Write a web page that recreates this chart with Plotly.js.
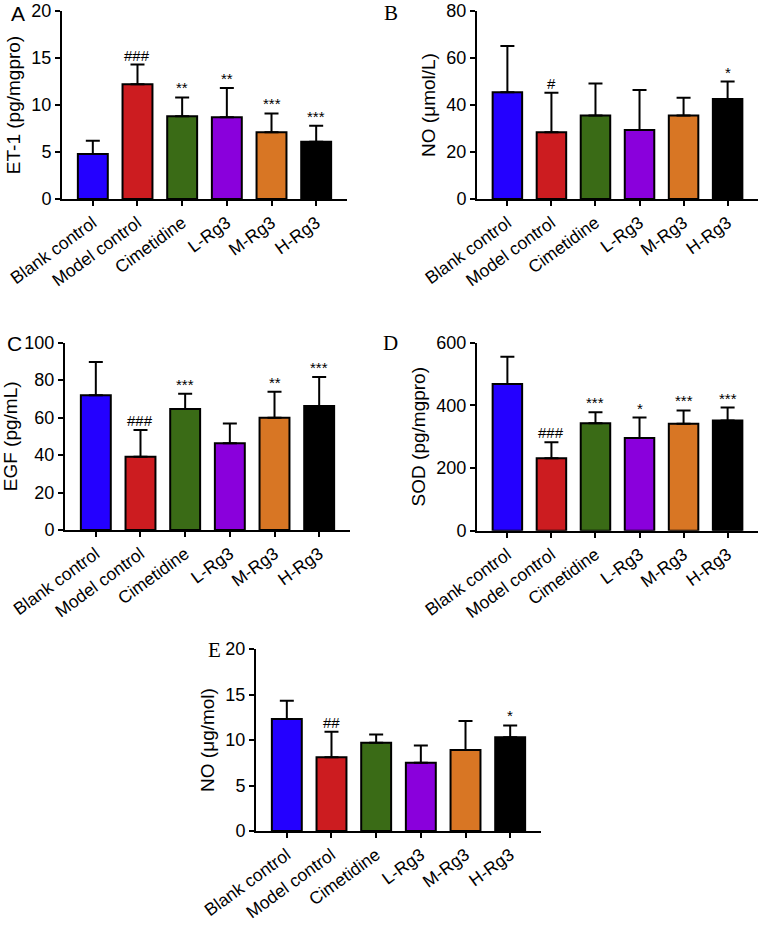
<!DOCTYPE html>
<html><head><meta charset="utf-8">
<script src="https://cdn.plot.ly/plotly-3.0.1.min.js"></script>
<style>html,body{margin:0;padding:0;background:#fff}#chart{width:761px;height:926px}</style>
</head><body><div id="chart"></div>
<script>
const categories = ['Blank control','Model control','Cimetidine','L-Rg3','M-Rg3','H-Rg3'];
const barColors = ['#2400FF','#CC1C20','#3A6B16','#8A00DC','#D87624','#000000'];

const et1Mean = [4.8, 12.2, 8.8, 8.7, 7.1, 6.1];
const et1Err  = [1.4, 2.1, 2.0, 3.1, 2.0, 1.7];
const et1Sig  = ['', '###', '**', '**', '***', '***'];

const noMean = [45.4, 28.4, 35.5, 29.4, 35.5, 42.6];
const noErr  = [19.7, 16.8, 13.7, 17.0, 7.6, 7.4];
const noSig  = ['', '#', '', '', '', '*'];

const egfMean = [71.9, 39.1, 64.6, 46.3, 59.9, 66.2];
const egfErr  = [17.8, 14.3, 8.2, 10.6, 13.9, 15.5];
const egfSig  = ['', '###', '***', '', '**', '***'];

const sodMean = [468, 231, 343, 296, 341, 352];
const sodErr  = [87, 51, 35, 65, 43, 41];
const sodSig  = ['', '###', '***', '*', '***', '***'];

const no2Mean = [12.3, 8.1, 9.7, 7.5, 8.9, 10.3];
const no2Err  = [2.0, 2.8, 0.9, 1.9, 3.2, 1.3];
const no2Sig  = ['', '##', '', '', '', '*'];

const panels = [
  {mean: et1Mean, err: et1Err, sig: et1Sig, title: 'ET-1 (pg/mgpro)', range: [0,20], dtick: 5,
   xd: [62,347], yd: [11,199], letter: 'A', lx: 18, ly: 13, lfont: 'Liberation Sans, Arial, sans-serif'},
  {mean: noMean, err: noErr, sig: noSig, title: 'NO (μmol/L)', range: [0,80], dtick: 20,
   xd: [477,758], yd: [11,199], letter: 'B', lx: 391, ly: 13, lfont: 'Liberation Serif, Times New Roman, serif'},
  {mean: egfMean, err: egfErr, sig: egfSig, title: 'EGF (pg/mL)', range: [0,100], dtick: 20,
   xd: [65,350], yd: [342.7,530], letter: 'C', lx: 14, ly: 343, lfont: 'Liberation Sans, Arial, sans-serif'},
  {mean: sodMean, err: sodErr, sig: sodSig, title: 'SOD (pg/mgpro)', range: [0,600], dtick: 200,
   xd: [477,758], yd: [342.7,530.7], letter: 'D', lx: 390, ly: 343, lfont: 'Liberation Serif, Times New Roman, serif'},
  {mean: no2Mean, err: no2Err, sig: no2Sig, title: 'NO (μg/mol)', range: [0,20], dtick: 5,
   xd: [256,541], yd: [649,831], letter: 'E', lx: 214, ly: 650, lfont: 'Liberation Serif, Times New Roman, serif'}
];

const W = 761, H = 926;
const FONT = 'Liberation Sans, Arial, sans-serif';
const data = [];
const layout = {
  width: W, height: H, margin: {l:0, r:0, t:0, b:0},
  paper_bgcolor: '#fff', plot_bgcolor: '#fff', showlegend: false,
  font: {family: FONT, color: '#000'},
  annotations: []
};

panels.forEach((p, i) => {
  const n = i === 0 ? '' : String(i + 1);
  data.push({
    type: 'bar', x: categories, y: p.mean,
    xaxis: 'x' + n, yaxis: 'y' + n,
    width: 0.67,
    marker: {color: barColors, line: {color: '#000', width: 2}},
    error_y: {type: 'data', array: p.err, arrayminus: p.err.map(() => 0), symmetric: false,
              color: '#000', thickness: 2, width: 7},
    hoverinfo: 'none'
  });
  layout['xaxis' + n] = {
    domain: [p.xd[0] / W, p.xd[1] / W], anchor: 'y' + n,
    type: 'category', range: [-0.69, 5.69],
    showline: true, linecolor: '#000', linewidth: 2,
    ticks: 'outside', ticklen: 5, tickwidth: 2, tickcolor: '#000',
    tickangle: -36, tickfont: {family: FONT, size: 17.5, color: '#000'},
    showgrid: false, zeroline: false, fixedrange: true
  };
  layout['yaxis' + n] = {
    domain: [1 - p.yd[1] / H, 1 - p.yd[0] / H], anchor: 'x' + n,
    range: p.range, dtick: p.dtick, tick0: 0,
    showline: true, linecolor: '#000', linewidth: 2,
    ticks: 'outside', ticklen: 5, tickwidth: 2, tickcolor: '#000',
    tickfont: {family: FONT, size: 18, color: '#000'},
    title: {text: p.title, font: {family: FONT, size: 19, color: '#000'}, standoff: 6},
    showgrid: false, zeroline: false, fixedrange: true
  };
  p.sig.forEach((s, k) => {
    if (!s) return;
    layout.annotations.push({
      xref: 'x' + n, yref: 'y' + n, x: categories[k], y: p.mean[k] + p.err[k],
      text: s, showarrow: false, yanchor: 'bottom', yshift: -1,
      font: {family: FONT, size: 15, color: '#000'}
    });
  });
  layout.annotations.push({
    xref: 'paper', yref: 'paper', x: p.lx / W, y: 1 - p.ly / H,
    text: p.letter, showarrow: false, xanchor: 'center', yanchor: 'middle',
    font: {family: p.lfont, size: 21, color: '#000'}
  });
});

Plotly.newPlot('chart', data, layout, {displayModeBar: false, staticPlot: true});
</script>
</body></html>
